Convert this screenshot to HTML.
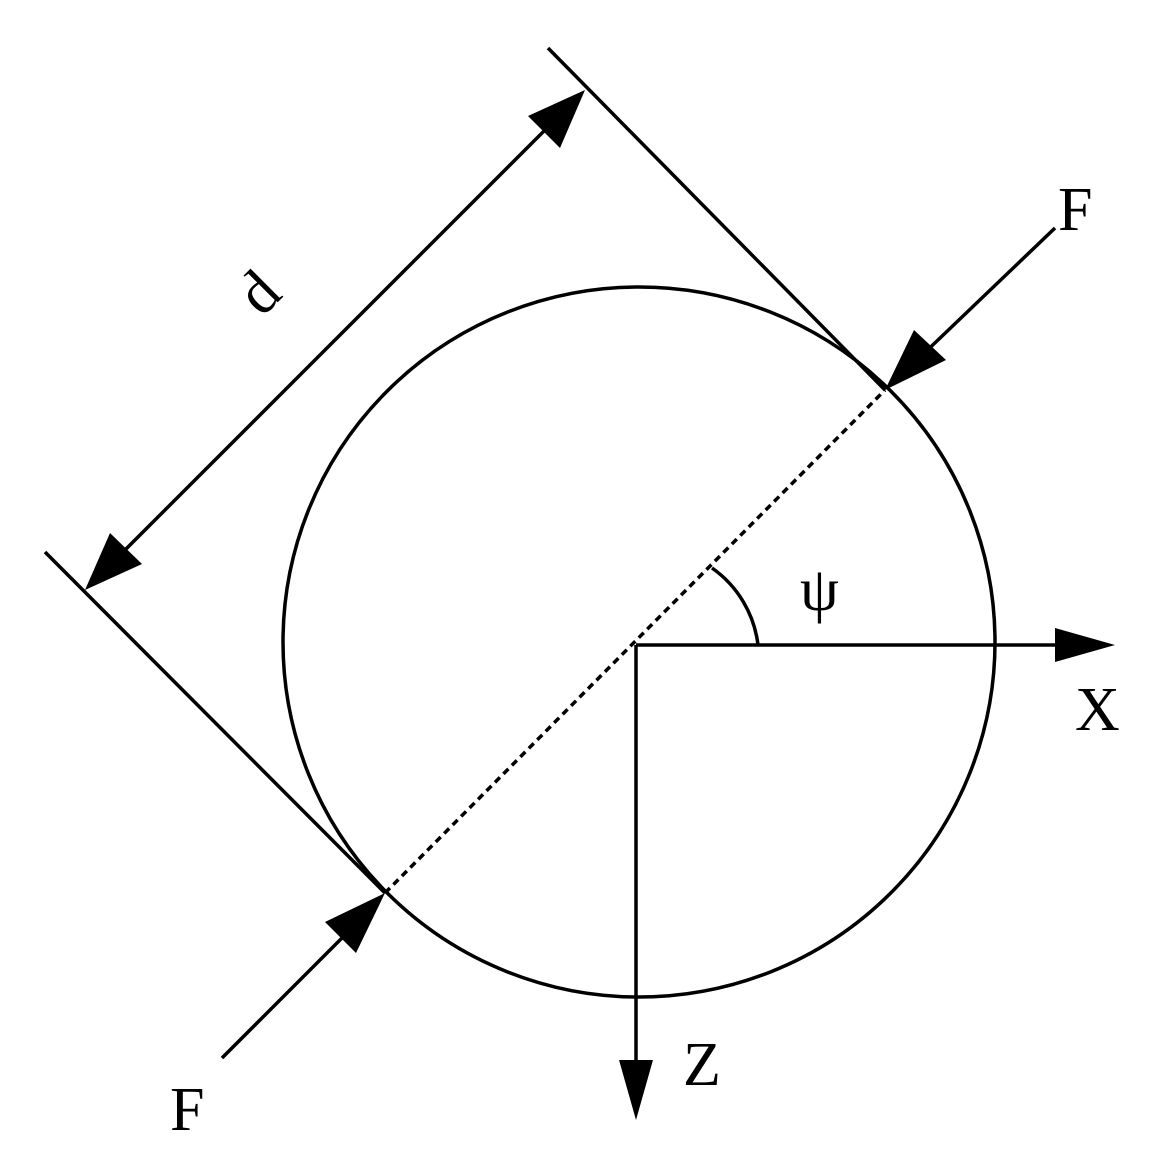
<!DOCTYPE html>
<html><head><meta charset="utf-8"><style>
html,body{margin:0;padding:0;background:#fff;}
svg{display:block;}
text{font-family:"Liberation Serif",serif;font-size:62px;fill:#000;}
</style></head><body>
<svg width="1171" height="1165" viewBox="0 0 1171 1165" xmlns="http://www.w3.org/2000/svg">
<g stroke="#000" stroke-width="3.5" fill="none">
<ellipse cx="639" cy="642" rx="356" ry="355"/>
<line x1="548" y1="48" x2="885" y2="390"/>
<line x1="45" y1="552" x2="385" y2="893"/>
<line x1="385" y1="893" x2="885" y2="390" stroke-dasharray="7,5"/>
<line x1="115" y1="560" x2="555" y2="120"/>
<line x1="1055" y1="228" x2="915" y2="362"/>
<line x1="222" y1="1058" x2="358" y2="922"/>
<line x1="636" y1="645" x2="1070" y2="645"/>
<line x1="636" y1="645" x2="636" y2="1075"/>
<path d="M712,568 A110,110 0 0 1 758,645"/>
</g>
<g fill="#000">
<polygon points="585,90 560,148 528,116"/>
<polygon points="85,590 142,564 110,533"/>
<polygon points="885,390 946,360 914,330"/>
<polygon points="385,893 325,922 356,953"/>
<polygon points="1115,645 1055,628 1055,662"/>
<polygon points="636,1120 619,1060 653,1060"/>
</g>
<text x="1058" y="230">F</text>
<text x="170" y="1130">F</text>
<text x="1075" y="730">X</text>
<text x="683" y="1085">Z</text>
<text x="800" y="610">ψ</text>
<text x="0" y="0" transform="translate(262,318) rotate(-45)">d</text>
</svg>
</body></html>
